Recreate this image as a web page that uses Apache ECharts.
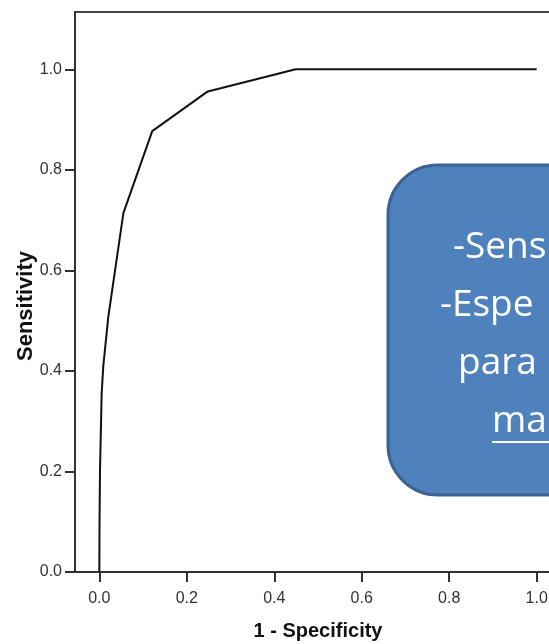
<!DOCTYPE html>
<html>
<head>
<meta charset="utf-8">
<script src="https://cdn.jsdelivr.net/npm/echarts@6/dist/echarts.min.js"></script>
<style>html,body{margin:0;padding:0;background:#fff;}#c{width:549px;height:644px;}</style>
</head>
<body>
<div id="c"></div>
<script>
// ROC curve points
const fpr = [0.0, 0.0005, 0.0016, 0.0054, 0.009, 0.0206, 0.036, 0.055, 0.121, 0.248, 0.449, 1.0];
const tpr = [0.0, 0.10, 0.203, 0.356, 0.409, 0.508, 0.60, 0.714, 0.877, 0.956, 1.0, 1.0];
const xTicks = [0.0, 0.2, 0.4, 0.6, 0.8, 1.0];
const yTicks = [0.0, 0.2, 0.4, 0.6, 0.8, 1.0];
const xTitle = '1 - Specificity';
const yTitle = 'Sensitivity';
const boxLines = ['-Sens', '-Espe', 'para', 'ma'];

const chart = echarts.init(document.getElementById('c'), null, {renderer: 'canvas'});
const lineData = fpr.map((x, i) => [x, tpr[i]]);
const fmt = v => Number(v).toFixed(1);

const boxTextX = [453, 440, 458, 492];
const boxTextY = [229, 287, 345, 403];

const graphics = [
  {type: 'rect', z: 100, shape: {x: 388, y: 165, width: 260, height: 330, r: 50},
   style: {fill: '#4F81BD', stroke: '#3A6294', lineWidth: 3}}
];
boxLines.forEach((t, i) => {
  graphics.push({type: 'text', z: 101, x: boxTextX[i], y: boxTextY[i],
    style: {text: t, fill: '#fff', font: '37px "Open Sans"', textAlign: 'left'}});
});
graphics.push({type: 'line', z: 101, shape: {x1: 492, y1: 442, x2: 549, y2: 442}, style: {stroke: '#fff', lineWidth: 2}});

chart.setOption({
  animation: false,
  backgroundColor: '#fff',
  grid: {left: 75, top: 12, right: -12, bottom: 72, outerBoundsMode: 'none', containLabel: false,
         show: true, borderColor: '#444', borderWidth: 2, backgroundColor: 'transparent'},
  xAxis: {
    type: 'value', min: -0.0556, max: 1.0556,
    name: xTitle, nameLocation: 'middle', nameGap: 49,
    nameTextStyle: {fontFamily: 'Liberation Sans', fontWeight: 'bold', fontSize: 20, color: '#111'},
    axisLine: {show: true, onZero: false, lineStyle: {color: '#333', width: 2}},
    axisTick: {show: true, length: 10, lineStyle: {color: '#333', width: 2}, customValues: xTicks},
    axisLabel: {customValues: xTicks, formatter: fmt, fontFamily: 'Liberation Sans', fontSize: 16, color: '#333', margin: 19},
    splitLine: {show: false}
  },
  yAxis: {
    type: 'value', min: 0, max: 1.114,
    name: yTitle, nameLocation: 'middle', nameGap: 38, nameMoveOverlap: false,
    nameTextStyle: {fontFamily: 'Liberation Sans', fontWeight: 'bold', fontSize: 22, color: '#111', padding: [0, 28, 0, 0]},
    axisLine: {show: true, onZero: false, lineStyle: {color: '#333', width: 2}},
    axisTick: {show: true, length: 10, lineStyle: {color: '#333', width: 2}, customValues: yTicks},
    axisLabel: {customValues: yTicks, formatter: fmt, fontFamily: 'Liberation Sans', fontSize: 16, color: '#333', margin: 13},
    splitLine: {show: false}
  },
  series: [{
    type: 'line', data: lineData, showSymbol: false, symbol: 'none',
    lineStyle: {color: '#111', width: 2}, z: 5
  }],
  graphic: graphics
});
</script>
</body>
</html>
